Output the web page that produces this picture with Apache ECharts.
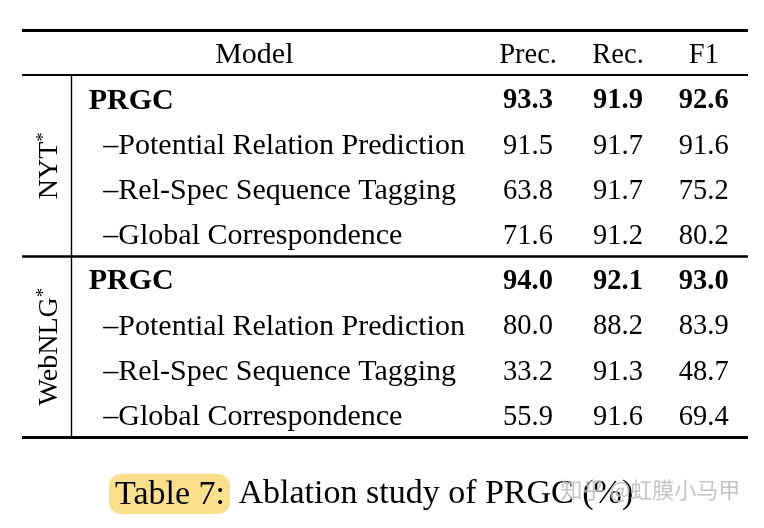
<!DOCTYPE html>
<html>
<head>
<meta charset="utf-8">
<script src="https://cdn.jsdelivr.net/npm/echarts@6/dist/echarts.min.js"></script>
<style>
  html, body { margin: 0; padding: 0; background: #fff; }
  #chart { width: 764px; height: 528px; }
</style>
</head>
<body>
<div id="chart"></div>
<script>
// table data
var columns = ['Prec.', 'Rec.', 'F1'];
var groups = ['NYT', 'WebNLG'];
var models = [
  'PRGC',
  '\u2013Potential Relation Prediction',
  '\u2013Rel-Spec Sequence Tagging',
  '\u2013Global Correspondence'
];
var nytPrec = [93.3, 91.5, 63.8, 71.6];
var nytRec = [91.9, 91.7, 91.7, 91.2];
var nytF1 = [92.6, 91.6, 75.2, 80.2];
var webPrec = [94.0, 80.0, 33.2, 55.9];
var webRec = [92.1, 88.2, 91.3, 91.6];
var webF1 = [93.0, 83.9, 48.7, 69.4];
var caption = 'Ablation study of PRGC (%)';

// column positions on the x scale (0..100 of table width)
var colPos = { group: 3.85, model: 9.2, sub: 11.2, 'Prec.': 69.7, 'Rec.': 82.1, 'F1': 93.9 };
var serif = '"Liberation Serif", "DejaVu Serif", serif';
var fsNum = 28.5;
var fsName = 30;

var groupValues = [
  [nytPrec, nytRec, nytF1],
  [webPrec, webRec, webF1]
];

// header row sits in band 0, data rows in bands 1..8
var textData = [];
textData.push({ value: [32, 0.5], text: 'Model', pos: 'inside', size: fsName });
columns.forEach(function (c) {
  textData.push({ value: [colPos[c], 0.5], text: c, pos: 'inside', size: fsNum });
});
groups.forEach(function (g, gi) {
  models.forEach(function (m, mi) {
    var row = 1 + gi * 4 + mi + 0.5;
    var bold = mi === 0;
    textData.push({ value: [bold ? colPos.model : colPos.sub, row], text: m, pos: 'right', bold: bold, size: fsName });
    columns.forEach(function (c, ci) {
      textData.push({ value: [colPos[c], row], text: groupValues[gi][ci][mi].toFixed(1), pos: 'inside', bold: bold, size: fsNum });
    });
  });
});

var seriesText = textData.map(function (d) {
  return {
    value: d.value,
    label: {
      show: true,
      position: d.pos,
      distance: 0,
      offset: [0, 3],
      formatter: d.text,
      fontSize: d.size,
      fontWeight: d.bold ? 'bold' : 'normal'
    }
  };
});

var groupData = groups.map(function (g, gi) {
  return {
    value: [colPos.group, 1 + gi * 4 + 2],
    label: {
      show: true,
      position: 'inside',
      rotate: 90,
      formatter: '{n|' + g + '}{s|*}'
    }
  };
});

var chart = echarts.init(document.getElementById('chart'));
chart.setOption({
  backgroundColor: '#fff',
  animation: false,
  grid: { left: 22, right: 16, top: 30, bottom: 91 },
  xAxis: { type: 'value', min: 0, max: 100, show: false },
  yAxis: { type: 'value', min: 0, max: 9, inverse: true, show: false },
  title: {
    text: '{hl|Table 7:} ' + caption,
    left: 104,
    top: 469,
    textStyle: {
      fontFamily: serif, fontSize: 34, fontWeight: 'normal', color: '#000',
      rich: {
        hl: {
          fontFamily: serif, fontSize: 34, color: '#000',
          backgroundColor: '#fbe08c', borderRadius: 12, padding: [4, 5, 2, 6]
        }
      }
    }
  },
  graphic: [{
    type: 'text',
    left: 560,
    top: 478,
    z: 10,
    style: {
      text: '知乎 @虹膜小马甲',
      font: '22px "Noto Sans CJK SC"',
      fill: 'rgba(175,175,175,0.75)',
      stroke: 'rgba(255,255,255,0.6)',
      lineWidth: 1
    }
  }],
  series: [
    {
      type: 'scatter',
      symbolSize: 0,
      clip: false,
      silent: true,
      itemStyle: { opacity: 1 },
      label: { color: '#000', fontFamily: serif, fontSize: fsNum },
      data: seriesText,
      markLine: {
        silent: true,
        symbol: 'none',
        label: { show: false },
        lineStyle: { color: '#000', type: 'solid', opacity: 1 },
        data: [
          { yAxis: 0, lineStyle: { width: 3 } },
          { yAxis: 1, lineStyle: { width: 2 } },
          { yAxis: 5, lineStyle: { width: 2.5 } },
          { yAxis: 9, lineStyle: { width: 3 } },
          [{ coord: [6.75, 1], lineStyle: { width: 1.4 } }, { coord: [6.75, 9] }]
        ]
      }
    },
    {
      type: 'scatter',
      symbolSize: 0,
      clip: false,
      silent: true,
      itemStyle: { opacity: 1 },
      label: {
        color: '#000', fontFamily: serif, fontSize: 28,
        rich: {
          n: { fontFamily: serif, fontSize: 28, color: '#000' },
          s: { fontFamily: serif, fontSize: 19, color: '#000', padding: [0, 0, 12, 0] }
        }
      },
      data: groupData
    }
  ]
});
</script>
</body>
</html>
